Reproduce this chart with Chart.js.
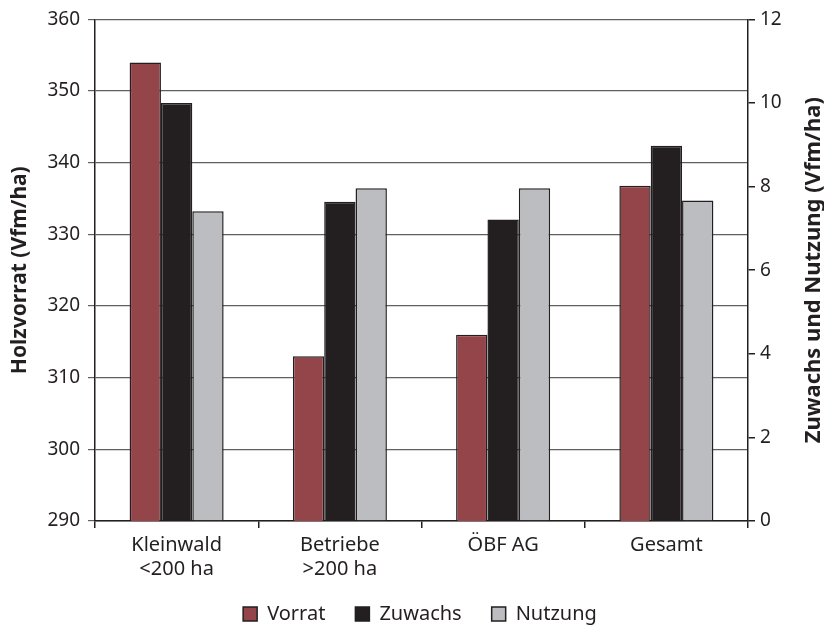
<!DOCTYPE html>
<html lang="de">
<head>
    <meta charset="UTF-8">
    <title>Holzvorrat, Zuwachs und Nutzung</title>
    <script src="https://cdn.jsdelivr.net/npm/chart.js"></script>
    <style>
        html, body { margin: 0; padding: 0; background: #fff; }
        .container { width: 824px; height: 627px; position: relative; }
    </style>
</head>
<body>
    <div class="container">
        <canvas id="barChart"></canvas>
    </div>

    <script>
        const categories = [['Kleinwald', '<200 ha'], ['Betriebe', '>200 ha'], 'ÖBF AG', 'Gesamt'];
        const vorrat = [354, 313, 316, 336.8];   // linke Achse
        const zuwachs = [10.0, 7.64, 7.21, 8.98]; // rechte Achse
        const nutzung = [7.41, 7.96, 7.96, 7.67];  // rechte Achse

        const leftTitle = 'Holzvorrat (Vfm/ha)';
        const rightTitle = 'Zuwachs und Nutzung (Vfm/ha)';

        const ink = '#231f20';
        const font = "'Noto Sans', sans-serif";

        // beide Achsentitel von unten nach oben lesbar
        const axisTitles = {
            id: 'axisTitles',
            afterDraw(chart) {
                const c = chart.ctx;
                const area = chart.chartArea;
                const midY = (area.top + area.bottom) / 2;
                c.save();
                c.fillStyle = ink;
                c.textAlign = 'center';
                c.textBaseline = 'middle';
                [[20, leftTitle, 21], [814, rightTitle, 22]].forEach(([x, text, size]) => {
                    c.save();
                    c.translate(x, midY);
                    c.rotate(-Math.PI / 2);
                    c.font = 'bold ' + size + 'px ' + font;
                    c.fillText(text, 0, 0);
                    c.restore();
                });
                c.restore();
            }
        };

        // Legende etwas näher an die Achsenbeschriftung
        const legendShift = {
            id: 'legendShift',
            afterLayout(chart) {
                chart.legend.top -= 11;
                chart.legend.bottom -= 11;
                chart.legend.left += 8;
                chart.legend.right += 8;
            }
        };

        const ctx = document.getElementById('barChart').getContext('2d');
        const barChart = new Chart(ctx, {
            type: 'bar',
            data: {
                labels: categories,
                datasets: [{
                    label: 'Vorrat',
                    data: vorrat,
                    yAxisID: 'y',
                    backgroundColor: '#93454a',
                    borderColor: ink,
                    borderWidth: 1.5
                }, {
                    label: 'Zuwachs',
                    data: zuwachs,
                    yAxisID: 'y1',
                    backgroundColor: ink,
                    borderColor: ink,
                    borderWidth: 1.5
                }, {
                    label: 'Nutzung',
                    data: nutzung,
                    yAxisID: 'y1',
                    backgroundColor: '#bbbdc1',
                    borderColor: ink,
                    borderWidth: 1.5
                }]
            },
            options: {
                responsive: true,
                maintainAspectRatio: false,
                animation: false,
                datasets: {
                    bar: { categoryPercentage: 0.576, barPercentage: 1.0 }
                },
                layout: { padding: { top: 13, left: 0, right: 0, bottom: -18 } },
                scales: {
                    x: {
                        grid: { drawOnChartArea: false, drawTicks: true, tickLength: 7, color: ink, lineWidth: 1.5 },
                        border: { color: ink, width: 1.5 },
                        ticks: { color: ink, font: { family: font, size: 20 }, padding: 5, maxRotation: 0 },
                        afterFit(scale) { scale.height = 64; }
                    },
                    y: {
                        position: 'left',
                        min: 290,
                        max: 360,
                        ticks: { stepSize: 10, color: ink, font: { family: font, size: 19 }, padding: 8 },
                        grid: { color: '#606062', lineWidth: 1.2, tickLength: 7, drawTicks: true },
                        border: { color: ink, width: 1.5 },
                        afterFit(scale) { scale.width = 95; }
                    },
                    y1: {
                        position: 'right',
                        min: 0,
                        max: 12,
                        ticks: { stepSize: 2, color: ink, font: { family: font, size: 19 }, padding: 5 },
                        grid: { drawOnChartArea: false, drawTicks: true, tickLength: 7, color: ink, lineWidth: 1.5 },
                        border: { color: ink, width: 1.5 },
                        afterFit(scale) { scale.width = 76; }
                    }
                },
                plugins: {
                    legend: {
                        position: 'bottom',
                        labels: {
                            color: ink,
                            font: { family: font, size: 20 },
                            boxWidth: 14,
                            boxHeight: 14,
                            padding: 30
                        }
                    },
                    tooltip: { enabled: false }
                }
            },
            plugins: [axisTitles, legendShift]
        });
    </script>
</body>
</html>
